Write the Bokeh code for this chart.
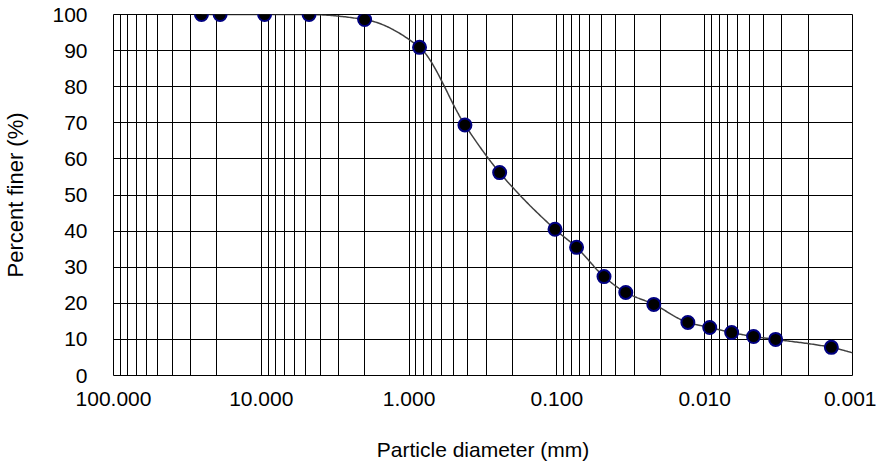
import numpy as np
from bokeh.plotting import figure
from bokeh.models import Range1d, FixedTicker, CustomJSTickFormatter, ColumnDataSource
from bokeh.embed import file_html
from bokeh.resources import INLINE

# ---- data ----
diameter_mm = [25.4, 19.0, 9.5, 4.75, 2.0, 0.85, 0.419, 0.244, 0.103, 0.0736,
               0.048, 0.0342, 0.0221, 0.0130, 0.00925, 0.00657, 0.00467, 0.00331, 0.00139]
percent_finer = [100, 100, 100, 100, 98.6, 90.9, 69.4, 56.2, 40.5, 35.5,
                 27.4, 23.0, 19.7, 14.7, 13.3, 11.9, 10.8, 10.0, 7.8]
# fitted curve continues to the right edge of the chart
curve_end_mm = [0.001]
curve_end_pct = [6.3]

x_major = [100, 10, 1, 0.1, 0.01, 0.001]
x_minor = [m * 10.0 ** k for k in range(-3, 2) for m in range(2, 10)]
y_ticks = list(range(0, 101, 10))


def monotone_curve(xs, ys, n=40):
    """Fritsch-Carlson monotone cubic through the points, in log10(x)."""
    t = -np.log10(np.asarray(xs, float))
    y = np.asarray(ys, float)
    h = np.diff(t)
    delta = np.diff(y) / h
    m = np.zeros_like(y)
    m[0], m[-1] = delta[0], delta[-1]
    for i in range(1, len(y) - 1):
        if delta[i - 1] * delta[i] <= 0:
            m[i] = 0.0
        else:
            w1 = 2 * h[i] + h[i - 1]
            w2 = h[i] + 2 * h[i - 1]
            m[i] = (w1 + w2) / (w1 / delta[i - 1] + w2 / delta[i])
    tt, yy = [], []
    for i in range(len(h)):
        s = np.linspace(0, 1, n, endpoint=(i == len(h) - 1))
        h00 = 2 * s**3 - 3 * s**2 + 1
        h10 = s**3 - 2 * s**2 + s
        h01 = -2 * s**3 + 3 * s**2
        h11 = s**3 - s**2
        tt.extend(t[i] + s * h[i])
        yy.extend(h00 * y[i] + h10 * h[i] * m[i] + h01 * y[i + 1] + h11 * h[i] * m[i + 1])
    return list(10.0 ** (-np.array(tt))), yy


cx, cy = monotone_curve(diameter_mm + curve_end_mm, percent_finer + curve_end_pct)

p = figure(width=876, height=464, x_axis_type="log",
           x_range=Range1d(100, 0.001), y_range=Range1d(0, 100),
           output_backend="svg", toolbar_location=None,
           min_border_left=112, min_border_right=24,
           min_border_top=14, min_border_bottom=89)

p.background_fill_color = "white"
p.border_fill_color = "white"
p.outline_line_color = "black"
p.outline_line_width = 1

p.xaxis.ticker = FixedTicker(ticks=x_major, minor_ticks=x_minor)
p.xaxis.formatter = CustomJSTickFormatter(code="return tick.toFixed(3);")
p.yaxis.ticker = FixedTicker(ticks=y_ticks, minor_ticks=[])

for ax in (p.xaxis, p.yaxis):
    ax.axis_line_color = None
    ax.major_tick_line_color = None
    ax.minor_tick_line_color = None
    ax.major_tick_out = 0
    ax.major_tick_in = 0
    ax.major_label_text_font = "Liberation Sans"
    ax.major_label_text_font_size = "21px"
    ax.major_label_text_color = "black"
    ax.axis_label_text_font = "Liberation Sans"
    ax.axis_label_text_font_style = "normal"
    ax.axis_label_text_color = "black"

p.xaxis.axis_label = "Particle diameter (mm)"
p.xaxis.axis_label_text_font_size = "21px"
p.xaxis.major_label_standoff = 12
p.xaxis.axis_label_standoff = 29

p.yaxis.axis_label = "Percent finer (%)"
p.yaxis.axis_label_text_font_size = "22px"
p.yaxis.major_label_standoff = 26
p.yaxis.axis_label_standoff = 21

p.xgrid.grid_line_color = "black"
p.xgrid.grid_line_width = 1
p.xgrid.minor_grid_line_color = "black"
p.xgrid.minor_grid_line_width = 1
p.ygrid.grid_line_color = "black"
p.ygrid.grid_line_width = 1

p.line(cx, cy, line_color="#404040", line_width=1.5)

src = ColumnDataSource(dict(d=diameter_mm, pct=percent_finer))
p.scatter("d", "pct", source=src, size=13, fill_color="black",
          line_color="#000080", line_width=2)

open("out.html", "w").write(file_html(p, INLINE))
